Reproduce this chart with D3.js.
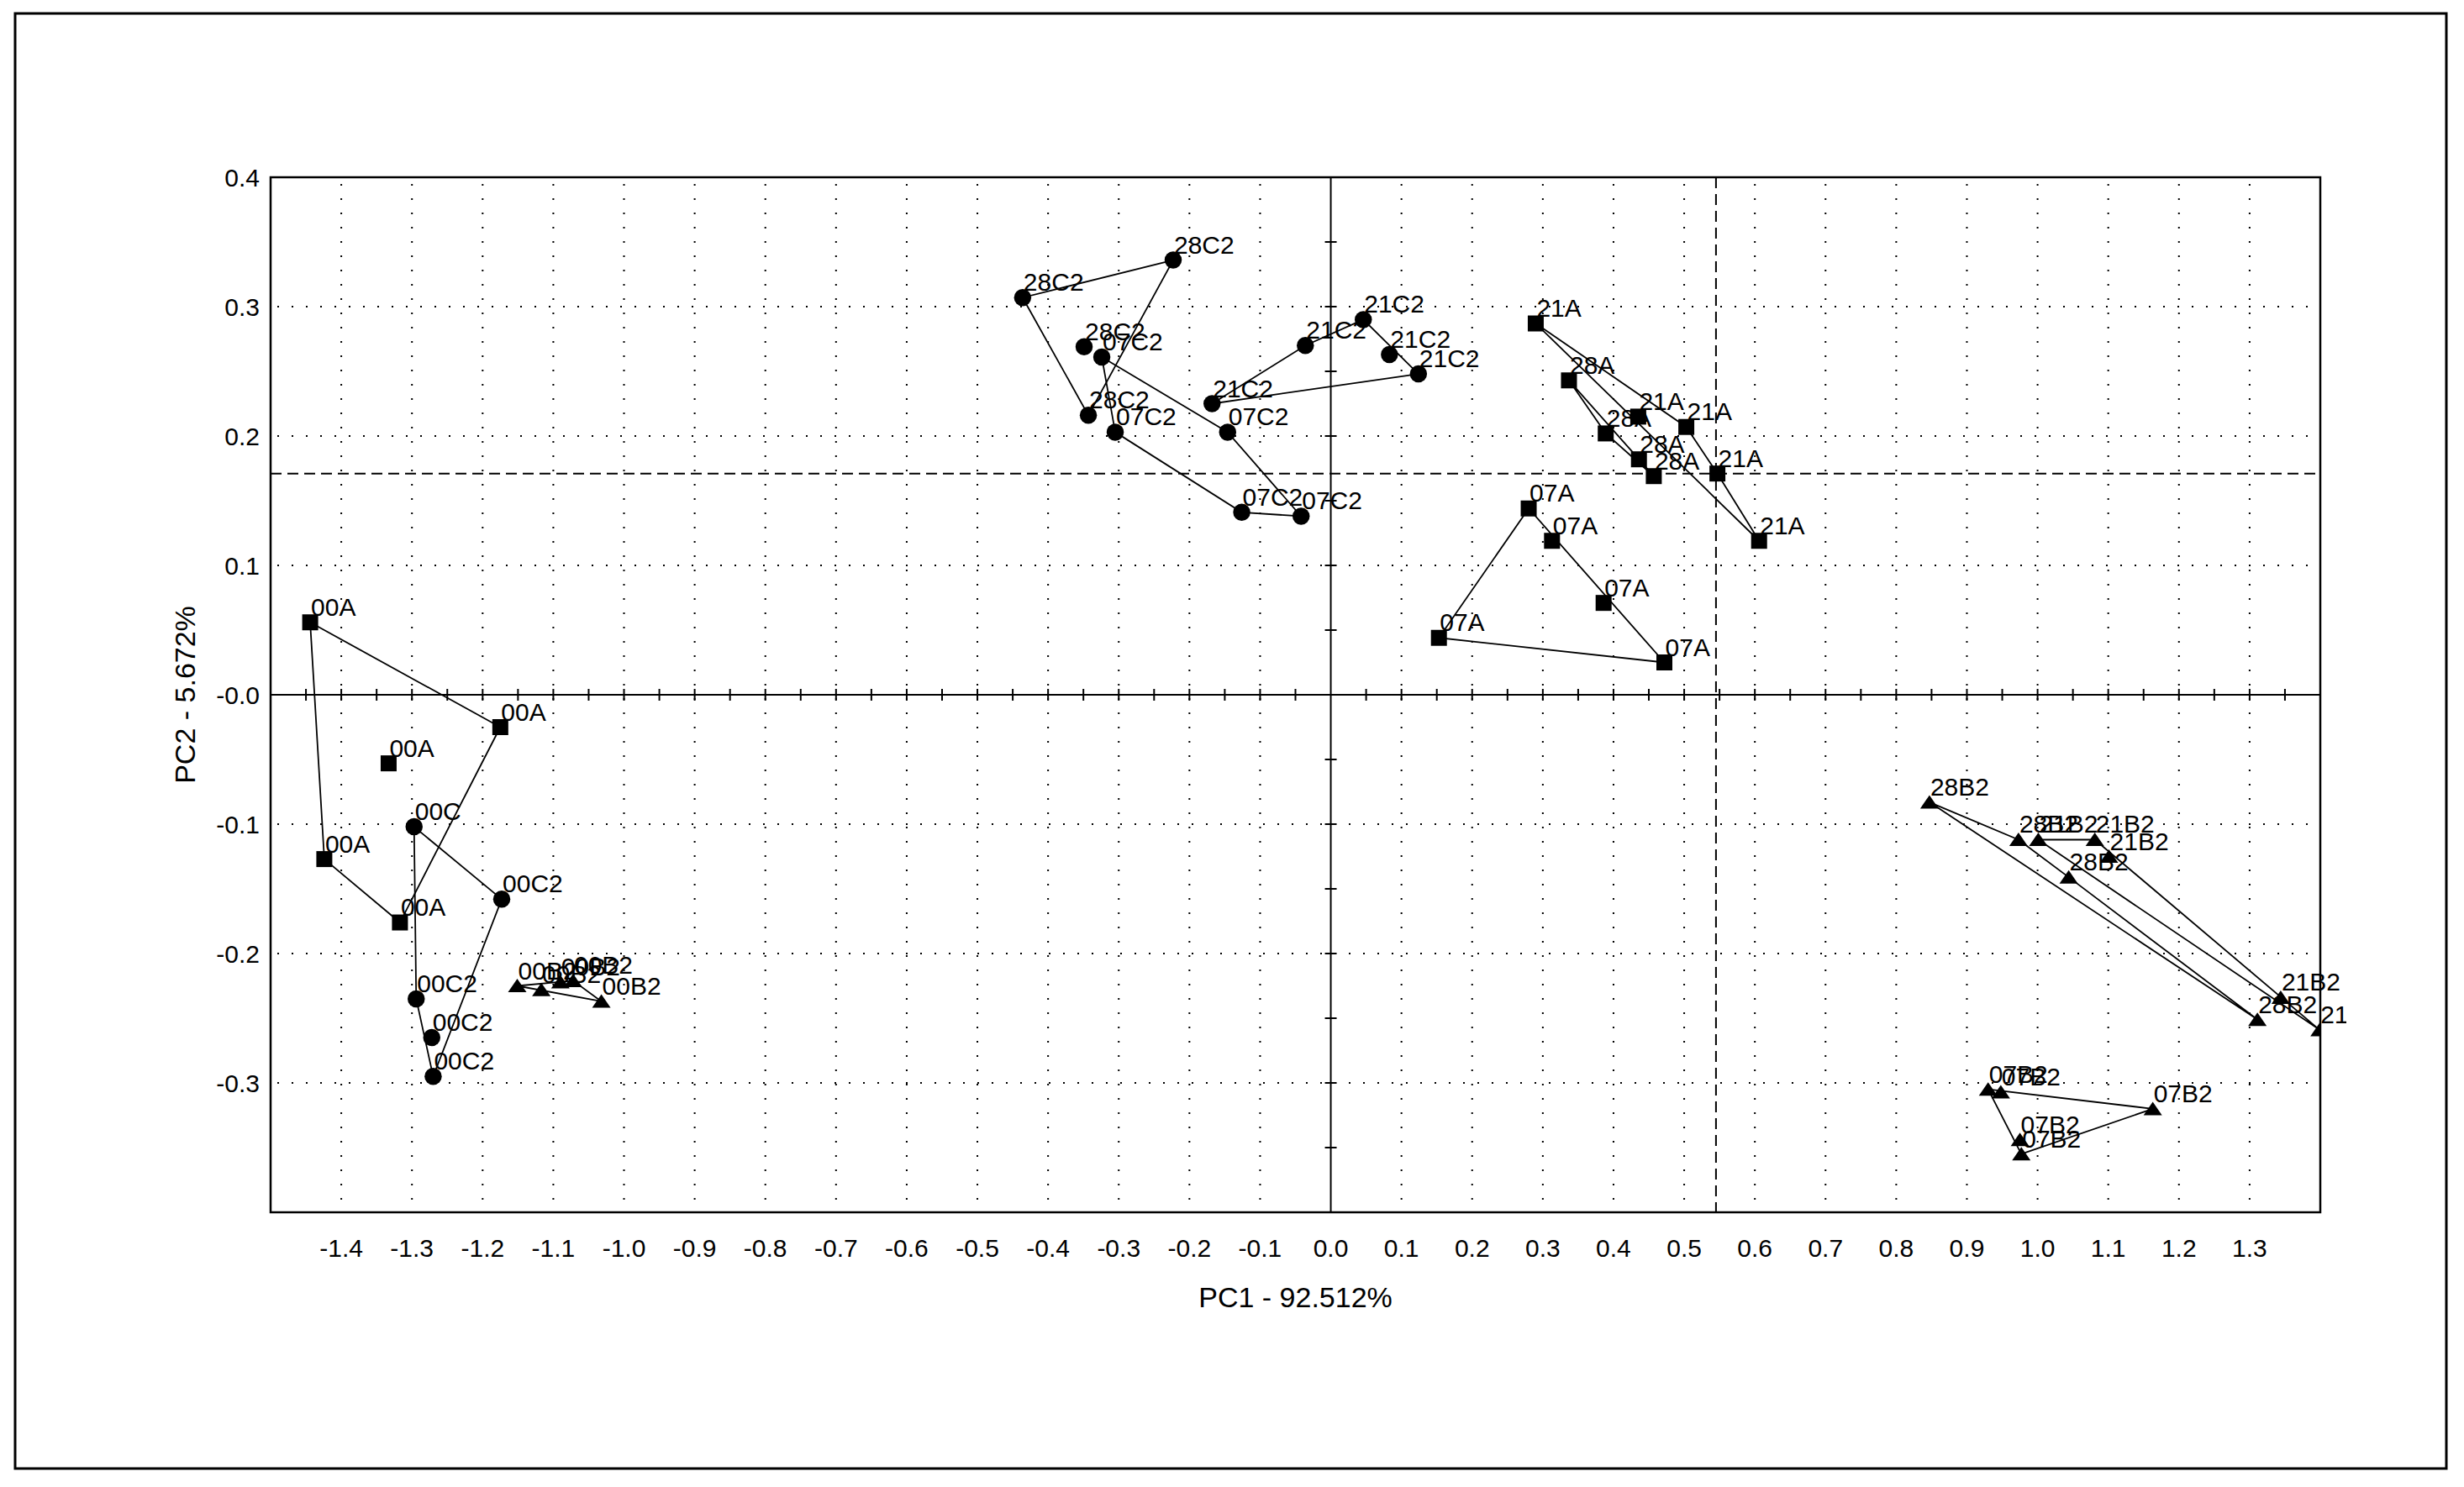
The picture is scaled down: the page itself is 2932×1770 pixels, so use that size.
<!DOCTYPE html>
<html><head><meta charset="utf-8">
<script src="https://cdn.jsdelivr.net/npm/d3@7"></script>
<style>html,body{margin:0;padding:0;background:#fff;} svg{display:block;}</style>
</head><body>
<script>
// ---------- tick labels ----------
const xTickValues = [-1.4,-1.3,-1.2,-1.1,-1.0,-0.9,-0.8,-0.7,-0.6,-0.5,-0.4,-0.3,-0.2,-0.1,0.0,0.1,0.2,0.3,0.4,0.5,0.6,0.7,0.8,0.9,1.0,1.1,1.2,1.3];
const xTickLabels = ["-1.4","-1.3","-1.2","-1.1","-1.0","-0.9","-0.8","-0.7","-0.6","-0.5","-0.4","-0.3","-0.2","-0.1","0.0","0.1","0.2","0.3","0.4","0.5","0.6","0.7","0.8","0.9","1.0","1.1","1.2","1.3"];
const yTickValues = [0.4,0.3,0.2,0.1,0.0,-0.1,-0.2,-0.3];
const yTickLabels = ["0.4","0.3","0.2","0.1","-0.0","-0.1","-0.2","-0.3"];
const xTitle = "PC1 - 92.512%";
const yTitle = "PC2 - 5.672%";
const xDomain = [-1.5, 1.4];
const yDomain = [-0.4, 0.4];
const refX = 0.545;   // dashed vertical reference
const refY = 0.171;   // dashed horizontal reference

// ---------- series (PC1, PC2, label) ----------
const pts00A  = [[-1.444,0.056,"00A"],[-1.175,-0.025,"00A"],[-1.333,-0.053,"00A"],[-1.424,-0.127,"00A"],[-1.317,-0.176,"00A"]];
const pts00C2 = [[-1.297,-0.102,"00C"],[-1.173,-0.158,"00C2"],[-1.294,-0.235,"00C2"],[-1.272,-0.265,"00C2"],[-1.270,-0.295,"00C2"]];
const pts00B2 = [[-1.151,-0.225,"00B2"],[-1.117,-0.228,"00B2"],[-1.090,-0.222,"00B2"],[-1.072,-0.221,"00B2"],[-1.032,-0.237,"00B2"]];
const pts07A  = [[0.280,0.144,"07A"],[0.313,0.119,"07A"],[0.386,0.071,"07A"],[0.153,0.044,"07A"],[0.472,0.025,"07A"]];
const pts07C2 = [[-0.324,0.261,"07C2"],[-0.305,0.203,"07C2"],[-0.146,0.203,"07C2"],[-0.126,0.141,"07C2"],[-0.042,0.138,"07C2"]];
const pts07B2 = [[0.930,-0.305,"07B2"],[0.948,-0.307,"07B2"],[1.163,-0.320,"07B2"],[0.975,-0.344,"07B2"],[0.977,-0.355,"07B2"]];
const pts21A  = [[0.290,0.287,"21A"],[0.435,0.215,"21A"],[0.503,0.207,"21A"],[0.547,0.171,"21A"],[0.606,0.119,"21A"]];
const pts21C2 = [[-0.168,0.225,"21C2"],[-0.036,0.270,"21C2"],[0.046,0.290,"21C2"],[0.083,0.263,"21C2"],[0.124,0.248,"21C2"]];
const pts21B2 = [[1.001,-0.112,"21B2"],[1.081,-0.112,"21B2"],[1.101,-0.125,"21B2"],[1.344,-0.234,"21B2"],[1.399,-0.259,"21B2"]];
const pts28A  = [[0.337,0.243,"28A"],[0.389,0.202,"28A"],[0.436,0.182,"28A"],[0.457,0.169,"28A"]];
const pts28C2 = [[-0.223,0.336,"28C2"],[-0.436,0.307,"28C2"],[-0.349,0.269,"28C2"],[-0.343,0.216,"28C2"]];
const pts28B2 = [[0.847,-0.083,"28B2"],[0.973,-0.112,"28B2"],[1.044,-0.141,"28B2"],[1.311,-0.251,"28B2"]];

const groups = [
  {marker:"square", pts:pts00A}, {marker:"circle", pts:pts00C2}, {marker:"triangle", pts:pts00B2},
  {marker:"square", pts:pts07A}, {marker:"circle", pts:pts07C2}, {marker:"triangle", pts:pts07B2},
  {marker:"square", pts:pts21A}, {marker:"circle", pts:pts21C2}, {marker:"triangle", pts:pts21B2},
  {marker:"square", pts:pts28A}, {marker:"circle", pts:pts28C2}, {marker:"triangle", pts:pts28B2}
];

// ---------- layout ----------
const W = 2932, H = 1770;
const L = 322, T = 211, R = 2761, B = 1443;
const FONT = "'Liberation Sans', Arial, sans-serif";

const svg = d3.select("body").append("svg").attr("width", W).attr("height", H)
  .style("font-family", FONT);
svg.append("rect").attr("width", W).attr("height", H).attr("fill", "#fff");

// outer border
svg.append("rect").attr("x", 18).attr("y", 16).attr("width", 2893).attr("height", 1732)
  .attr("fill", "none").attr("stroke", "#000").attr("stroke-width", 3);

const x = d3.scaleLinear().domain(xDomain).range([L, R]);
const y = d3.scaleLinear().domain(yDomain).range([B, T]);

const defs = svg.append("defs");
defs.append("clipPath").attr("id", "plotclip")
  .append("rect").attr("x", L).attr("y", T).attr("width", R - L).attr("height", B - T);
defs.append("clipPath").attr("id", "labclip")
  .append("rect").attr("x", L).attr("y", T - 40).attr("width", R - L + 31).attr("height", B - T + 40);

// dotted grid
const grid = svg.append("g").attr("stroke", "#000").attr("stroke-width", 2).attr("stroke-dasharray", "2,15");
grid.selectAll("line.v").data(xTickValues.filter(v => v !== 0)).join("line")
  .attr("x1", d => x(d)).attr("x2", d => x(d)).attr("y1", T + 8).attr("y2", B);
grid.selectAll("line.h").data(yTickValues.filter(v => v !== 0 && v !== 0.4)).join("line")
  .attr("class", "h")
  .attr("x1", L + 8).attr("x2", R).attr("y1", d => y(d)).attr("y2", d => y(d));

// axes through zero
const axes = svg.append("g").attr("stroke", "#000").attr("stroke-width", 2);
axes.append("line").attr("x1", x(0)).attr("x2", x(0)).attr("y1", T).attr("y2", B);
axes.append("line").attr("x1", L).attr("x2", R).attr("y1", y(0)).attr("y2", y(0));
const xMinor = d3.range(-29, 28).map(i => i * 0.05).filter(v => Math.abs(v) > 1e-9);
const yMinor = d3.range(-7, 8).map(i => i * 0.05).filter(v => Math.abs(v) > 1e-9);
axes.selectAll("line.xt").data(xMinor).join("line").attr("class", "xt")
  .attr("x1", d => x(d)).attr("x2", d => x(d)).attr("y1", y(0) - 7).attr("y2", y(0) + 7);
axes.selectAll("line.yt").data(yMinor).join("line").attr("class", "yt")
  .attr("x1", x(0) - 7).attr("x2", x(0) + 7).attr("y1", d => y(d)).attr("y2", d => y(d));

// dashed reference lines
const dash = svg.append("g").attr("stroke", "#000").attr("stroke-width", 2).attr("stroke-dasharray", "13,7");
dash.append("line").attr("x1", x(refX)).attr("x2", x(refX)).attr("y1", T).attr("y2", B);
dash.append("line").attr("x1", L).attr("x2", R).attr("y1", y(refY)).attr("y2", y(refY));

// frame
svg.append("rect").attr("x", L).attr("y", T).attr("width", R - L).attr("height", B - T)
  .attr("fill", "none").attr("stroke", "#000").attr("stroke-width", 2.5);

// tick labels
svg.append("g").selectAll("text").data(xTickValues).join("text")
  .attr("x", d => x(d)).attr("y", 1496).attr("text-anchor", "middle")
  .attr("font-size", 30).attr("fill", "#000")
  .text((d, i) => xTickLabels[i]);
svg.append("g").selectAll("text").data(yTickValues).join("text")
  .attr("x", 309).attr("y", d => y(d) + 11).attr("text-anchor", "end")
  .attr("font-size", 30).attr("fill", "#000")
  .text((d, i) => yTickLabels[i]);

// axis titles
svg.append("text").attr("x", (L + R) / 2).attr("y", 1556).attr("text-anchor", "middle")
  .attr("font-size", 34).attr("fill", "#000").text(xTitle);
svg.append("text").attr("transform", `translate(232,${(T + B) / 2}) rotate(-90)`)
  .attr("text-anchor", "middle").attr("font-size", 34).attr("fill", "#000").text(yTitle);

// hulls
const plot = svg.append("g").attr("clip-path", "url(#plotclip)");
const hullG = plot.append("g");
groups.forEach(g => {
  const pix = g.pts.map(p => [x(p[0]), y(p[1])]);
  const hull = d3.polygonHull(pix);
  if (hull) {
    hullG.append("path").attr("d", "M" + hull.map(p => p.join(",")).join("L") + "Z")
      .attr("fill", "none").attr("stroke", "#000").attr("stroke-width", 1.8);
  }
});

// markers
const triSym = { draw(ctx, size) { const s = Math.sqrt(size); ctx.moveTo(0, -0.42 * s); ctx.lineTo(0.55 * s, 0.38 * s); ctx.lineTo(-0.55 * s, 0.38 * s); ctx.closePath(); } };
const symType = { square: d3.symbolSquare, circle: d3.symbolCircle, triangle: triSym };
const symSize = { square: 361, circle: 330, triangle: 400 };
const markG = plot.append("g");
groups.forEach(g => {
  markG.selectAll(null).data(g.pts).join("path")
    .attr("transform", d => `translate(${x(d[0])},${y(d[1])})`)
    .attr("d", d3.symbol().type(symType[g.marker]).size(symSize[g.marker]))
    .attr("fill", "#000");
});

// point labels
const labG = svg.append("g").attr("clip-path", "url(#labclip)").attr("font-size", 30).attr("fill", "#000");
groups.forEach(g => {
  labG.selectAll(null).data(g.pts).join("text")
    .attr("x", d => x(d[0]) + 1).attr("y", d => y(d[1]) - 8)
    .text(d => d[2]);
});
</script>
</body></html>
